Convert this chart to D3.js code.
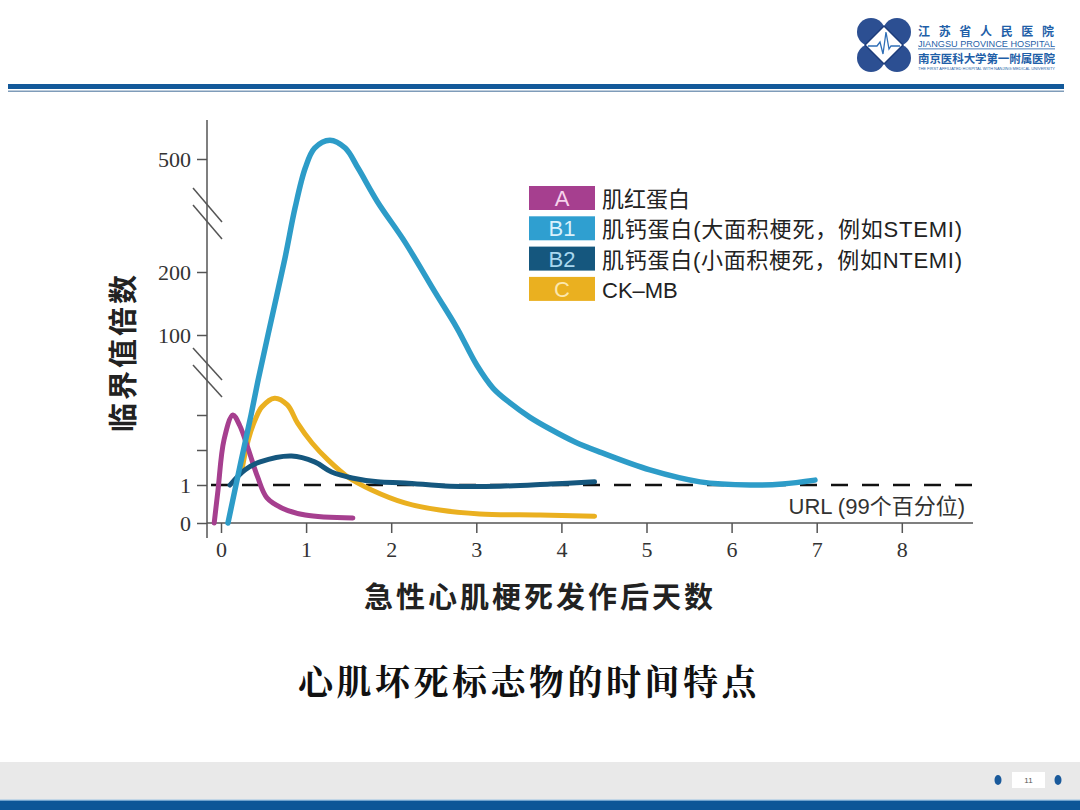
<!DOCTYPE html>
<html>
<head>
<meta charset="utf-8">
<script src="https://cdn.jsdelivr.net/npm/d3@7"></script>
<style>
  body { margin: 0; background: #fff; }
  svg { display: block; }
</style>
</head>
<body>
<div id="chart"></div>
<script>
// values: [day, multiples of cut-off]
var myoglobin = [[-0.08,0],[-0.035,0.87],[0.035,2.86],[0.14,5],[0.22,4.1],[0.32,2.09],[0.43,1.23],
  [0.54,0.66],[0.72,0.39],[0.99,0.21],[1.55,0.13]];
var troponinLarge = [[0.082,0],[0.176,1],[0.264,2],[0.353,5],[0.435,46],[0.552,100],[0.752,237],[0.87,370],
  [0.99,476],[1.10,529],[1.28,550],[1.46,529],[1.61,476],[1.84,386],[2.16,280],[2.515,168],[2.773,111],
  [3.007,64],[3.196,37],[3.396,19.3],[3.631,4.8],[3.866,3.8],[4.16,2.69],[4.454,1.94],[5.04,1.43],
  [5.63,1.09],[6.22,1.0],[6.60,1.03],[6.98,1.14]];
var troponinSmall = [[0.106,1.0],[0.28,1.43],[0.46,1.66],[0.83,1.83],[1.10,1.66],[1.30,1.37],[1.54,1.2],
  [1.84,1.09],[2.16,1.06],[2.69,0.97],[3.28,0.97],[3.87,1.03],[4.39,1.09]];
var ckmb = [[0.25,1.49],[0.32,2.86],[0.40,4.57],[0.48,14.5],[0.63,25],[0.78,17],[0.90,4.3],[1.07,2.6],
  [1.26,1.71],[1.49,1.23],[1.77,0.87],[2.16,0.53],[2.57,0.34],[3.04,0.24],[3.75,0.21],[4.39,0.18]];

var xTicks = [0,1,2,3,4,5,6,7,8];
var yTicks = [0,1,2,5,100,200,500];
var yLabels = {0:"0",1:"1",100:"100",200:"200",500:"500"};
var url = 1;

var legendKeys = ["A","B1","B2","C"];
var legendNames = ["肌红蛋白","肌钙蛋白(大面积梗死，例如STEMI)","肌钙蛋白(小面积梗死，例如NTEMI)","CK–MB"];
var legendColors = ["#a63f8f","#2f9fd0","#15577e","#eab020"];
var legendKeyText = ["#f6d3ec","#d9f1fb","#a9d7ef","#fbe7ae"];

var W = 1080, H = 810;
var svg = d3.select("#chart").append("svg").attr("width", W).attr("height", H);

// ---- slide frame ----
svg.append("rect").attr("x",8).attr("y",84).attr("width",1056).attr("height",5).attr("fill","#13599a");
svg.append("rect").attr("x",8).attr("y",90.5).attr("width",1056).attr("height",1.5).attr("fill","#7f9cb9");

svg.append("rect").attr("x",0).attr("y",762).attr("width",W).attr("height",39).attr("fill","#e9e9e9");
svg.append("rect").attr("x",0).attr("y",800).attr("width",W).attr("height",10).attr("fill","#0d5697");
svg.append("rect").attr("x",0).attr("y",799.5).attr("width",W).attr("height",1.2).attr("fill","#9cc3e3");
svg.append("rect").attr("x",1012).attr("y",772).attr("width",33).attr("height",16).attr("fill","#fff");
svg.append("text").attr("x",1028.5).attr("y",783).attr("text-anchor","middle")
  .attr("font-family","Liberation Sans").attr("font-size",8).attr("fill","#555").text("11");
[998,1058].forEach(function(cx){
  svg.append("ellipse").attr("cx",cx).attr("cy",780).attr("rx",3.5).attr("ry",5).attr("fill","#1a5a9b");
});

// logo
var logo = svg.append("g").attr("transform","translate(884,45)");
[[-13,-13],[13,-13],[-13,13],[13,13]].forEach(function(p){
  logo.append("circle").attr("cx",p[0]).attr("cy",p[1]).attr("r",14).attr("fill","#2c4f92");
});
logo.append("rect").attr("x",-14).attr("y",-14).attr("width",28).attr("height",28).attr("fill","#2c4f92");
logo.append("path").attr("d","M0,-19L19,0L0,19L-19,0Z").attr("fill","#fff").attr("stroke","#1d3c7a").attr("stroke-width",1.5);
logo.append("path").attr("d","M-16,1L-7,1L-4,-3L-1,9L2,-13L5,4L7,1L16,1")
  .attr("fill","none").attr("stroke","#2f6fb7").attr("stroke-width",1.3);
var ht = svg.append("g").attr("fill","#1f5fa8");
ht.append("text").attr("x",918).attr("y",36).attr("font-family","Noto Sans CJK SC").attr("font-size",12)
  .attr("font-weight",700).attr("textLength",136).text("江 苏 省 人 民 医 院");
ht.append("text").attr("x",918).attr("y",46.5).attr("font-family","Liberation Sans").attr("font-size",9.5)
  .attr("textLength",137).attr("lengthAdjust","spacingAndGlyphs").text("JIANGSU PROVINCE HOSPITAL");
ht.append("rect").attr("x",918).attr("y",48.5).attr("width",137).attr("height",0.8);
ht.append("text").attr("x",918).attr("y",63).attr("font-family","Noto Sans CJK SC").attr("font-size",11.5)
  .attr("font-weight",700).attr("textLength",137).text("南京医科大学第一附属医院");
ht.append("text").attr("x",918).attr("y",70).attr("font-family","Liberation Sans").attr("font-size",3.6)
  .attr("textLength",137).attr("lengthAdjust","spacingAndGlyphs")
  .text("THE FIRST AFFILIATED HOSPITAL WITH NANJING MEDICAL UNIVERSITY");

// ---- chart ----
var x = d3.scaleLinear().domain([0, 8]).range([221, 901.8]);
var y = d3.scaleLinear().domain(yTicks).range([523, 485, 450, 415, 335, 272, 159]);
var axisColor = "#555";

var xAxis = svg.append("g").attr("transform","translate(0,523)")
  .call(d3.axisBottom(x).tickValues(xTicks).tickSize(10).tickPadding(8).tickSizeOuter(0));
xAxis.select(".domain").remove();
xAxis.selectAll("line").attr("stroke",axisColor).attr("stroke-width",1.5);
xAxis.selectAll("text").attr("font-family","Liberation Serif").attr("font-size",22).attr("fill","#333");

var yAxis = svg.append("g").attr("transform","translate(207,0)")
  .call(d3.axisLeft(y).tickValues(yTicks).tickSize(10).tickPadding(6)
    .tickFormat(function(d){ return yLabels[d] || ""; }));
yAxis.select(".domain").remove();
yAxis.selectAll("line").attr("stroke",axisColor).attr("stroke-width",1.5);
yAxis.selectAll("text").attr("font-family","Liberation Serif").attr("font-size",22).attr("fill","#333");

svg.append("line").attr("x1",207).attr("x2",207).attr("y1",120).attr("y2",538)
  .attr("stroke",axisColor).attr("stroke-width",1.5);
svg.append("line").attr("x1",207).attr("x2",973).attr("y1",y(0)).attr("y2",y(0))
  .attr("stroke",axisColor).attr("stroke-width",1.5);

// axis breaks
[[188,222],[348,380]].forEach(function(b){
  [0,17].forEach(function(o){
    svg.append("line").attr("x1",193).attr("y1",b[0]+o).attr("x2",222).attr("y2",b[1]+o)
      .attr("stroke",axisColor).attr("stroke-width",1.5);
  });
});

// URL line
svg.append("line").attr("x1",211).attr("x2",975).attr("y1",y(url)).attr("y2",y(url))
  .attr("stroke","#111").attr("stroke-width",2.5).attr("stroke-dasharray","17,14");
svg.append("text").attr("x",965).attr("y",514).attr("text-anchor","end")
  .attr("font-family","Liberation Sans Narrow, Liberation Sans, Noto Sans CJK SC").attr("font-size",22)
  .attr("fill","#333").text("URL (99个百分位)");

var line = d3.line().x(function(d){ return x(d[0]); }).y(function(d){ return y(d[1]); })
  .curve(d3.curveCatmullRom.alpha(0.5));

var series = [
  {data: ckmb, color: legendColors[3], w: 5},
  {data: myoglobin, color: legendColors[0], w: 5},
  {data: troponinSmall, color: legendColors[2], w: 5},
  {data: troponinLarge, color: "#2d9cc8", w: 5.5}
];
series.forEach(function(s){
  svg.append("path").attr("d", line(s.data)).attr("fill","none").attr("stroke", s.color)
    .attr("stroke-width", s.w).attr("stroke-linecap","round").attr("stroke-linejoin","round");
});

// legend
var lg = svg.append("g");
legendKeys.forEach(function(k, i){
  var top = 186 + i * 30.3;
  lg.append("rect").attr("x",529).attr("y",top).attr("width",66).attr("height",24).attr("fill",legendColors[i]);
  lg.append("text").attr("x",562).attr("y",top+20).attr("text-anchor","middle")
    .attr("font-family","Liberation Sans").attr("font-size",22).attr("fill",legendKeyText[i]).text(k);
  var t = lg.append("text").attr("x",602).attr("y",top+21)
    .attr("font-family","Liberation Sans, Noto Sans CJK SC").attr("font-size",22).attr("fill","#222")
    .text(legendNames[i]);
  if (i === 1 || i === 2) t.attr("textLength",360).attr("lengthAdjust","spacing");
});

// titles
svg.append("text").attr("transform","translate(134,352) rotate(-90)").attr("text-anchor","middle")
  .attr("font-family","Noto Sans CJK SC").attr("font-weight",700).attr("font-size",29)
  .attr("letter-spacing",3).attr("fill","#222").text("临界值倍数");
svg.append("text").attr("x",540).attr("y",608).attr("text-anchor","middle")
  .attr("font-family","Noto Sans CJK SC").attr("font-weight",700).attr("font-size",29)
  .attr("letter-spacing",3).attr("fill","#222").text("急性心肌梗死发作后天数");
svg.append("text").attr("x",529).attr("y",695).attr("text-anchor","middle")
  .attr("font-family","Noto Serif CJK SC, Noto Sans CJK SC").attr("font-weight",700).attr("font-size",35)
  .attr("letter-spacing",3.5).attr("fill","#111").text("心肌坏死标志物的时间特点");
</script>
</body>
</html>
